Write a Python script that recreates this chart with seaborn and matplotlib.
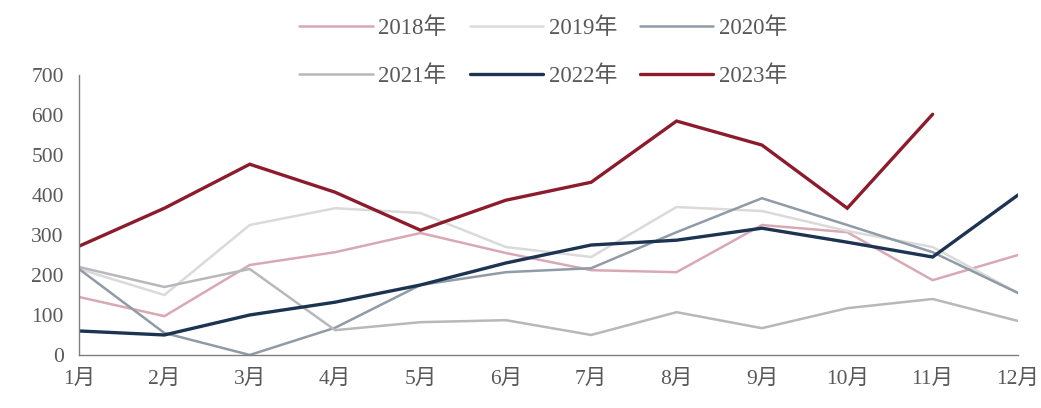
import numpy as np
import pandas as pd
import matplotlib
matplotlib.use("Agg")
import matplotlib.pyplot as plt
import seaborn as sns

months = ["1月", "2月", "3月", "4月", "5月", "6月", "7月", "8月", "9月", "10月", "11月", "12月"]
years = ["2018年", "2019年", "2020年", "2021年", "2022年", "2023年"]

v2018 = [145, 97, 225, 257, 305, 255, 212, 207, 325, 307, 187, 250]
v2019 = [215, 150, 325, 367, 355, 270, 245, 370, 360, 310, 270, 155]
v2020 = [215, 55, 0, 68, 175, 207, 217, 307, 392, 325, 257, 155]
v2021 = [220, 170, 215, 62, 82, 87, 50, 107, 67, 117, 140, 85]
v2022 = [60, 50, 100, 132, 175, 230, 275, 287, 317, 282, 245, 400]
v2023 = [272, 367, 477, 407, 312, 387, 432, 585, 525, 367, 602, np.nan]

colors = ["#d8a9b4", "#dadada", "#8f9ba7", "#b8b8bc", "#1d3352", "#8c1c2c"]
widths = [1.8, 1.8, 1.8, 1.8, 2.4, 2.4]

series = [v2018, v2019, v2020, v2021, v2022, v2023]
df = pd.DataFrame({
    "month": np.tile(np.arange(len(months)), len(years)),
    "value": np.concatenate([np.asarray(s, dtype=float) for s in series]),
    "year": np.repeat(years, len(months)),
})

sns.set_theme(style="white")
plt.rcParams["font.family"] = ["Liberation Serif", "Noto Sans CJK SC", "DejaVu Sans"]

fig = plt.figure(figsize=(10.41, 4.08), dpi=100)
ax = fig.add_axes([0.0759, 0.130, 0.902, 0.686])

sns.lineplot(data=df, x="month", y="value", hue="year", palette=dict(zip(years, colors)),
             estimator=None, sort=False, ax=ax, legend=False)
for line, lw in zip(ax.get_lines(), widths):
    line.set_linewidth(lw)
    line.set_solid_joinstyle("miter")

ax.set_xlim(0, 11)
ax.set_ylim(0, 700)
ax.set_xticks(range(len(months)))
ax.set_xticklabels(months)
ax.set_yticks(range(0, 701, 100))
ax.set_xlabel("")
ax.set_ylabel("")

for side in ["top", "right"]:
    ax.spines[side].set_visible(False)
for side in ["left", "bottom"]:
    ax.spines[side].set_color("#7f7f7f")
    ax.spines[side].set_linewidth(1.0)
ax.tick_params(axis="both", which="both", direction="out", length=6, width=1.0,
               color="#7f7f7f", labelcolor="#595959", labelsize=15.5)
ax.tick_params(axis="x", pad=5)
ax.tick_params(axis="y", pad=5)

# legend: two rows of three, years in reading order
handles = [plt.Line2D([], [], color=c, lw=lw) for c, lw in zip(colors, widths)]
order = [0, 3, 1, 4, 2, 5]
leg = fig.legend([handles[i] for i in order], [years[i] for i in order],
                 loc="upper center", bbox_to_anchor=(0.522, 1.008), ncol=3, frameon=False,
                 fontsize=16.5, handlelength=3.2, handletextpad=0.25, columnspacing=1.0,
                 labelspacing=1.15)
for t in leg.get_texts():
    t.set_color("#595959")

fig.savefig("out.png", dpi=100)
